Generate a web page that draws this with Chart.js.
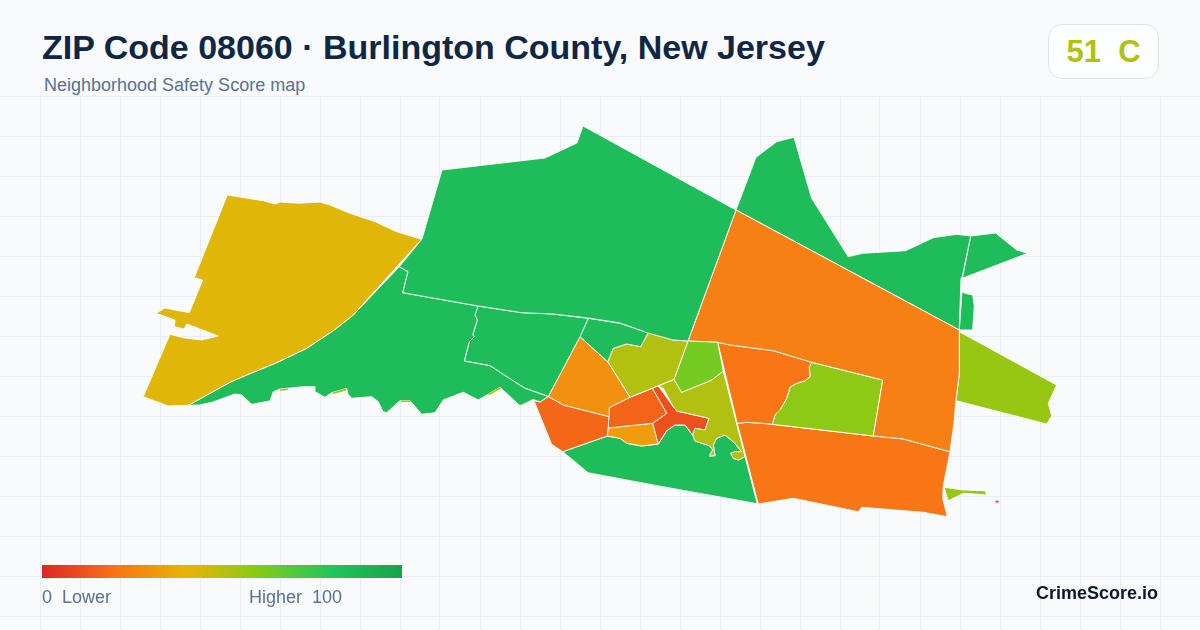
<!DOCTYPE html>
<html><head><meta charset="utf-8">
<style>
html,body{margin:0;padding:0;width:1200px;height:630px;overflow:hidden;background:#f8fafc;font-family:"Liberation Sans",Arial,sans-serif}
#wrap{position:absolute;left:0;top:96px;width:1200px;height:534px}
.t{position:absolute;white-space:pre;line-height:1}
#title{left:42px;top:30px;font-size:34px;font-weight:700;color:#0f2744}
#sub{left:44px;top:76px;font-size:18px;color:#5a7190}
#badge{position:absolute;left:1048px;top:24px;width:109px;height:53px;border:1px solid #dde4ee;border-radius:14px;background:#fdfefe;color:#b2c110;font-size:31px;font-weight:700;text-align:center;line-height:53px;white-space:pre}
#bar{position:absolute;left:42px;top:565px;width:360px;height:13px}
#lo{left:42px;top:588px;font-size:18px;color:#5a7190}
#hi{left:249px;top:588px;font-size:18px;color:#5a7190}
#brand{right:42px;top:584px;font-size:18px;font-weight:700;color:#0f172a}
</style></head><body>
<div id="wrap"><canvas id="c" width="1200" height="534"></canvas></div>
<div class="t" id="title">ZIP Code 08060 · Burlington County, New Jersey</div>
<div class="t" id="sub">Neighborhood Safety Score map</div>
<div id="badge">51  C</div>
<div id="bar"></div>
<div class="t" id="lo">0  Lower</div>
<div class="t" id="hi">Higher  100</div>
<div class="t" id="brand">CrimeScore.io</div>
<script src="https://cdn.jsdelivr.net/npm/chart.js@4"></script>
<script>
const gridX=[40,80,120,160,200,240,280,320,360,400,440,480,520,560,600,640,680,720,760,800,840,880,920,960,1000,1040,1080,1120,1160];
const gridY=[96,136,176,216,256,296,336,376,416,456,496,536,576,616];
const scoreStops=[0,20,40,60,80,100];
const scoreColors=[[220,38,38],[249,115,22],[234,179,8],[132,204,22],[34,197,94],[22,163,74]];

const zoneA=[[227.3,195],[263.3,200.7],[275,204],[280.7,202],[298.3,203.3],[320,202],[330,205],[350,213.3],[375,221.7],[396.7,231.7],[421.7,239.3],[399.3,264],[353.3,315],[333.3,330.7],[306.7,348.3],[276.7,362.7],[246.7,375],[230,382.3],[210,393.3],[188.3,405.3],[168.3,406],[143.3,396.7],[170,334.3],[183.3,337.7],[201.7,340],[218.3,336],[186.7,324],[184.3,329],[174.3,326.7],[175,320],[156,313.3],[165,308],[189.3,312.7],[202.7,280],[194.3,277.7]];
const zoneB=[[442,170],[545,158],[577,143],[583,126],[736,210],[688,341],[673,340],[648,333],[620,323],[588,318],[553,314],[521.7,312.7],[478,306],[402.7,292.7],[408,271.7],[399.3,266.7],[422,239]];
const zoneC=[[399.3,266.7],[408,271.7],[402.7,292.7],[478,306],[475,315],[477.3,320],[472.7,335],[474.3,336.7],[469.3,341.7],[464.3,361],[490,365.7],[506.7,376.7],[525,388.3],[548.3,396.5],[540,402],[533.3,399.5],[520,405.7],[500,387.3],[478.3,400],[463.3,392.3],[443.3,400],[435,412.7],[421.7,414.3],[410,400.7],[400,400.7],[386.7,412.7],[383,411.7],[378.3,401.7],[371.7,396.7],[351.7,398.3],[348,394],[346.7,388.3],[331.7,392.7],[325,397.3],[315,391.7],[315,386.7],[303.3,386.7],[280,389],[273.3,391.7],[270,401],[251.7,404.3],[241.7,395],[235,394],[213,402],[200,405],[188.3,405.3],[210,393.3],[230,382.3],[246.7,375],[276.7,362.7],[306.7,348.3],[333.3,330.7],[353.3,315]];
const zoneD=[[478,306],[521.7,312.7],[553,314],[588.3,318.3],[580,336.7],[548.3,396.5],[525,388.3],[506.7,376.7],[490,365.7],[464.3,361],[469.3,341.7],[474.3,336.7],[472.7,335],[477.3,320],[475,315]];
const zoneE=[[588.3,318.3],[580,336.7],[607.7,361.7],[613.3,348.3],[626.7,344],[640.7,346.7],[648.3,332.7],[620,323.3]];
const zoneF=[[580,336.7],[607.7,361.7],[630,397.3],[609.3,407.7],[609.3,416.7],[563.3,405],[548.3,396.5]];
const zoneG=[[648.3,332.7],[673,340],[688,341],[674,379.3],[630,397.3],[607.7,361.7],[613.3,348.3],[626.7,344],[640.7,346.7]];
const zoneH=[[688,341],[717.7,342.3],[723.3,371],[711.7,380],[681.7,392.3],[674,379.3]];
const zoneI=[[674,379.3],[681.7,392.3],[711.7,380],[723.3,371],[745,456.7],[738.3,460],[733.3,458.3],[730.7,453.3],[735,451.7],[741.7,451.7],[733.3,441.7],[725,435],[716.7,438.3],[713.3,445],[715,455.7],[709.3,456],[712.7,450],[710,446],[695,441],[692.7,435],[695,428.3],[705,430],[709,418.3],[676.7,411],[673.3,406.7],[663.3,388.3],[658.3,386]];
const zoneJ=[[609.3,407.7],[630,397.3],[652.3,388.3],[666.7,413.3],[652.7,423.3],[608.3,428]];
const zoneK=[[652.3,388.3],[658.3,386],[673.3,406.7],[676.7,411],[709,418.3],[705,430],[695,428.3],[692.7,435],[685,425],[675,425],[666.7,430.7],[658.3,444],[652.7,423.3],[666.7,413.3]];
const zoneL=[[652.7,423.3],[608.3,428],[607.3,436],[620,438.3],[626.7,443.3],[641.7,446],[658.3,444]];
const zoneM=[[534,400.7],[540,402],[548.3,396.5],[563.3,405],[609.3,416.7],[608.3,428],[607.3,436],[562.7,451.7],[551.7,444.3]];
const zoneN=[[562.7,451.7],[607.3,436],[620,438.3],[626.7,443.3],[641.7,446],[658.3,444],[666.7,430.7],[675,425],[685,425],[692.7,435],[695,441],[710,446],[712.7,450],[709.3,456],[715,455.7],[713.3,445],[716.7,438.3],[725,435],[733.3,441.7],[741.7,451.7],[735,451.7],[730.7,453.3],[733.3,458.3],[738.3,460],[745,456.7],[757.3,503.8],[751.7,502.7],[653.3,485],[600,475],[588,472.7],[573,460]];
const zoneO=[[736,210],[959.3,330],[959.3,373.3],[956,400],[954,423.3],[950,451.7],[903.3,439],[873.3,436],[882.7,380],[811.7,362.3],[773.3,350.7],[730,345],[717.7,342.3],[688,341]];
const zoneP=[[717.7,342.3],[730,345],[773.3,350.7],[811.7,362.3],[809.3,366.7],[810,376.7],[805,380.7],[795,384],[790,387.3],[786.7,398.3],[780,410],[775,415],[772.3,424.3],[761.7,423.3],[746.7,422.3],[737.3,423.3]];
const zoneQ=[[811.7,362.3],[882.7,380],[873.3,436],[772.3,424.3],[775,415],[780,410],[786.7,398.3],[790,387.3],[795,384],[805,380.7],[810,376.7],[809.3,366.7]];
const zoneR=[[737.3,423.3],[746.7,422.3],[761.7,423.3],[772.3,424.3],[873.3,436],[903.3,439],[950,451.7],[943.3,486],[942.7,498.3],[947.3,516.7],[923.3,512.3],[861.7,507.3],[858.3,511.7],[793.3,498.3],[758.3,504]];
const zoneS=[[736,210],[756,157.3],[776.7,141.7],[794,137.3],[811.7,198.3],[848.3,256.7],[862.7,253.3],[905.7,250.7],[933.3,237.7],[956.7,234.3],[970.7,236],[962.3,276.7],[961,278.3],[959.3,330]];
const zoneT=[[970.7,236],[995.7,233],[1016.7,250],[1027.7,253.3],[962.3,278.3]];
const zoneU=[[962,291.7],[965,293.3],[972.7,295],[974.3,305.7],[972.7,330],[959.3,330]];
const zoneV=[[959.3,331.7],[1056.7,385],[1048.3,403.3],[1051.7,416],[1046.7,424],[956,400.7],[959.3,373.3]];
const zoneW=[[944,487.3],[963.3,490],[985,490.7],[987,495],[963.3,493.3],[948.3,500.7]];
const zones=[zoneA,zoneB,zoneC,zoneD,zoneE,zoneF,zoneG,zoneH,zoneI,zoneJ,zoneK,zoneL,zoneM,zoneN,zoneO,zoneP,zoneQ,zoneR,zoneS,zoneT,zoneU,zoneV,zoneW];
const zoneScores=[42,85,85,85,85,29,51,63,51,16,11,33,17,85,24,21,58,21,85,85,85,56,57];

const sliverA=[[280,389.2],[288,388.4],[288,390],[280,390.8]];
const sliverB=[[333,392.4],[346,388.6],[346,390.4],[333,394]];
const sliverC=[[401,400.6],[410,400.6],[410,401.9],[401,401.9]];
const sliverD=[[488,394],[500,387.2],[501,388.6],[489,395.4]];
const sliverE=[[995.6,500.8],[998.6,500.8],[998.6,502.6],[995.6,502.6]];
const slivers=[sliverA,sliverB,sliverC,sliverD,sliverE];
const sliverScores=[55,55,55,50,6];

function scoreColor(s){
  let i=0;
  while(i<scoreStops.length-2&&s>scoreStops[i+1])i++;
  const t=(s-scoreStops[i])/(scoreStops[i+1]-scoreStops[i]);
  const c=scoreColors[i].map((v,k)=>Math.round(v+(scoreColors[i+1][k]-v)*t));
  return `rgb(${c.join(',')})`;
}
function shape(poly,score,bw){
  const pts=poly.concat([poly[0]]).map(p=>({x:p[0],y:p[1]}));
  return {data:pts,showLine:true,fill:'shape',tension:0.0001,pointRadius:0,pointHoverRadius:0,
    backgroundColor:scoreColor(score),borderColor:'rgba(255,255,255,0.95)',borderWidth:bw,borderJoinStyle:'round',clip:false};
}
document.getElementById('bar').style.background='linear-gradient(90deg,'+scoreStops.map((s,i)=>`rgb(${scoreColors[i].join(',')}) ${s}%`).join(',')+')';

new Chart(document.getElementById('c'),{
  type:'scatter',
  data:{datasets:slivers.map((p,i)=>shape(p,sliverScores[i],0)).concat(zones.map((p,i)=>shape(p,zoneScores[i],1)))},
  options:{
    responsive:false,animation:false,events:[],devicePixelRatio:1,
    layout:{padding:0},
    plugins:{legend:{display:false},title:{display:false},tooltip:{enabled:false}},
    scales:{
      x:{type:'linear',min:0,max:1200,afterBuildTicks:s=>{s.ticks=gridX.map(v=>({value:v}));},
        ticks:{display:false},border:{display:false},grid:{color:'#e8eef5',lineWidth:1,drawTicks:false}},
      y:{type:'linear',min:96,max:630,reverse:true,afterBuildTicks:s=>{s.ticks=gridY.map(v=>({value:v}));},
        ticks:{display:false},border:{display:false},grid:{color:'#e8eef5',lineWidth:1,drawTicks:false}}
    }
  }
});
</script>
</body></html>
